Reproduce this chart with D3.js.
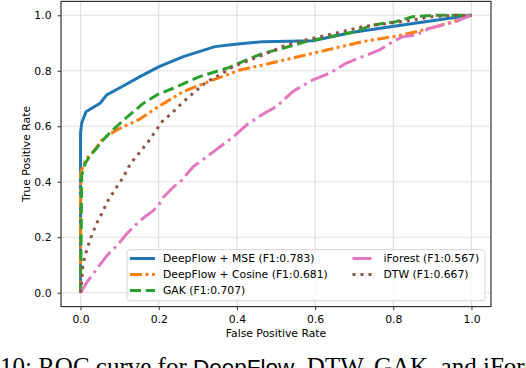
<!DOCTYPE html>
<html>
<head>
<meta charset="utf-8">
<script src="https://cdn.jsdelivr.net/npm/d3@7"></script>
<style>
  body { margin: 0; background: #fff; }
  svg { display: block; }
  .tick text { font-family: "DejaVu Sans", sans-serif; font-size: 10.8px; fill: #000; }
</style>
</head>
<body>
<div id="chart"></div>
<script>
// ROC curves (false positive rate, true positive rate)
const mseFpr = [0, 0, 0.003, 0.014, 0.05, 0.067, 0.109, 0.152, 0.201, 0.263, 0.344, 0.39, 0.467, 0.594, 0.697, 0.824, 0.944, 1];
const mseTpr = [0, 0.576, 0.612, 0.652, 0.683, 0.713, 0.745, 0.779, 0.815, 0.851, 0.887, 0.895, 0.905, 0.908, 0.939, 0.965, 0.989, 1];

const cosFpr = [0, 0, 0.006, 0.014, 0.029, 0.042, 0.058, 0.093, 0.152, 0.196, 0.263, 0.339, 0.408, 0.467, 0.594, 0.722, 0.824, 0.91, 0.961, 1];
const cosTpr = [0, 0.43, 0.454, 0.482, 0.503, 0.526, 0.557, 0.587, 0.626, 0.668, 0.725, 0.767, 0.803, 0.821, 0.863, 0.905, 0.929, 0.959, 0.981, 1];

const gakFpr = [0, 0.003, 0.011, 0.024, 0.041, 0.06, 0.081, 0.118, 0.161, 0.195, 0.237, 0.305, 0.374, 0.425, 0.467, 0.518, 0.577, 0.637, 0.697, 0.748, 0.807, 0.85, 0.91, 1];
const gakTpr = [0, 0.424, 0.464, 0.493, 0.521, 0.554, 0.585, 0.632, 0.683, 0.713, 0.737, 0.779, 0.809, 0.839, 0.863, 0.881, 0.905, 0.923, 0.939, 0.965, 0.977, 0.995, 1, 1];

const ifFpr = [0, 0.016, 0.041, 0.067, 0.097, 0.118, 0.152, 0.186, 0.199, 0.212, 0.237, 0.257, 0.288, 0.323, 0.357, 0.391, 0.425, 0.467, 0.501, 0.543, 0.594, 0.637, 0.679, 0.722, 0.765, 0.799, 0.824, 0.858, 0.893, 0.927, 0.961, 0.978, 1];
const ifTpr = [0, 0.037, 0.085, 0.133, 0.176, 0.212, 0.26, 0.296, 0.314, 0.344, 0.38, 0.403, 0.454, 0.49, 0.526, 0.562, 0.605, 0.644, 0.671, 0.725, 0.767, 0.791, 0.827, 0.851, 0.875, 0.905, 0.923, 0.929, 0.953, 0.965, 0.977, 0.989, 1];

const dtwFpr = [0, 0.003, 0.006, 0.012, 0.024, 0.041, 0.054, 0.071, 0.093, 0.109, 0.127, 0.156, 0.173, 0.199, 0.212, 0.229, 0.259, 0.288, 0.323, 0.348, 0.391, 0.433, 0.467, 0.526, 0.594, 0.663, 0.722, 0.79, 0.85, 0.901, 0.961, 1];
const dtwTpr = [0, 0.046, 0.1, 0.136, 0.19, 0.25, 0.284, 0.334, 0.382, 0.415, 0.464, 0.514, 0.544, 0.597, 0.623, 0.641, 0.683, 0.719, 0.761, 0.779, 0.815, 0.839, 0.857, 0.893, 0.917, 0.939, 0.959, 0.971, 0.983, 0.995, 1, 1];

const labels = ["DeepFlow + MSE (F1:0.783)", "DeepFlow + Cosine (F1:0.681)", "GAK (F1:0.707)", "iForest (F1:0.567)", "DTW (F1:0.667)"];
const ticks = [0, 0.2, 0.4, 0.6, 0.8, 1.0];

const width = 526;
const height = 368;

const series = [
  { name: labels[0], fpr: mseFpr, tpr: mseTpr, color: "#1f77b4", dash: null },
  { name: labels[1], fpr: cosFpr, tpr: cosTpr, color: "#ff7f0e", dash: "12,3.5,3,3.5,3,3.5" },
  { name: labels[2], fpr: gakFpr, tpr: gakTpr, color: "#2ca02c", dash: "11,4.8" },
  { name: labels[3], fpr: ifFpr, tpr: ifTpr, color: "#e377c2", dash: "19,4.8,3,4.8" },
  { name: labels[4], fpr: dtwFpr, tpr: dtwTpr, color: "#8c564b", dash: "3,5" }
];

const svg = d3.select('#chart')
  .append('svg')
  .attr('width', width)
  .attr('height', height);

const x = d3.scaleLinear().domain([-0.05, 1.05]).range([61, 491]);
const y = d3.scaleLinear().domain([-0.05, 1.05]).range([306.6, 1.4]);

//Grid
const grid = svg.append('g').attr('class', 'grid');
grid.selectAll('.gx').data(ticks).enter().append('line')
  .attr('x1', d => x(d)).attr('x2', d => x(d))
  .attr('y1', y.range()[0]).attr('y2', y.range()[1])
  .attr('stroke', '#e0e0e0').attr('stroke-width', 1.2);
grid.selectAll('.gy').data(ticks).enter().append('line')
  .attr('y1', d => y(d)).attr('y2', d => y(d))
  .attr('x1', x.range()[0]).attr('x2', x.range()[1])
  .attr('stroke', '#e0e0e0').attr('stroke-width', 1.2);

//Curves
const line = d3.line()
  .x(d => x(d[0]))
  .y(d => y(d[1]));

svg.append('g')
  .selectAll('path')
  .data(series)
  .enter().append('path')
  .attr('d', s => line(s.fpr.map((f, i) => [f, s.tpr[i]])))
  .attr('fill', 'none')
  .attr('stroke', s => s.color)
  .attr('stroke-width', 3)
  .attr('stroke-dasharray', s => s.dash)
  .attr('stroke-linejoin', 'round')
  .attr('stroke-linecap', 'butt');

//Axes
const xAxis = d3.axisBottom(x).tickValues(ticks).tickFormat(d3.format('.1f')).tickSize(3.5).tickSizeOuter(0).tickPadding(5.2);
const yAxis = d3.axisLeft(y).tickValues(ticks).tickFormat(d3.format('.1f')).tickSize(3.5).tickSizeOuter(0).tickPadding(6);

const gx = svg.append('g').attr('transform', `translate(0,${y.range()[0]})`).call(xAxis);
const gy = svg.append('g').attr('transform', `translate(${x.range()[0]},0)`).call(yAxis);
[gx, gy].forEach(g => {
  g.select('.domain').remove();
  g.selectAll('.tick line').attr('stroke', '#333').attr('stroke-width', 1);
});

//Frame
svg.append('rect')
  .attr('x', x.range()[0]).attr('y', y.range()[1])
  .attr('width', x.range()[1] - x.range()[0])
  .attr('height', y.range()[0] - y.range()[1])
  .attr('fill', 'none').attr('stroke', '#333').attr('stroke-width', 1.2);

//Axis labels
svg.append('text')
  .attr('x', (x.range()[0] + x.range()[1]) / 2).attr('y', 337)
  .attr('text-anchor', 'middle')
  .style('font-family', '"DejaVu Sans", sans-serif').style('font-size', '10.8px')
  .text('False Positive Rate');

svg.append('text')
  .attr('transform', `translate(29.5,${(y.range()[0] + y.range()[1]) / 2}) rotate(-90)`)
  .attr('text-anchor', 'middle')
  .style('font-family', '"DejaVu Sans", sans-serif').style('font-size', '10.8px')
  .text('True Positive Rate');

//Legend
const legend = svg.append('g').attr('id', 'legend');
legend.append('rect')
  .attr('x', 127).attr('y', 249.7).attr('width', 358).attr('height', 51)
  .attr('rx', 3)
  .attr('fill', '#fff').attr('fill-opacity', 0.8)
  .attr('stroke', '#d6d6d6').attr('stroke-width', 1);

const cols = [{ x0: 130, x1: 155, tx: 163 }, { x0: 352.5, x1: 373.5, tx: 383.5 }];
const rowY = [258.5, 274.5, 290.5];

const item = legend.selectAll('.item')
  .data(series)
  .enter().append('g')
  .attr('class', 'item');

item.append('line')
  .attr('x1', (s, i) => cols[Math.floor(i / 3)].x0)
  .attr('x2', (s, i) => cols[Math.floor(i / 3)].x1)
  .attr('y1', (s, i) => rowY[i % 3])
  .attr('y2', (s, i) => rowY[i % 3])
  .attr('stroke', s => s.color)
  .attr('stroke-width', 3)
  .attr('stroke-dasharray', s => s.dash);

item.append('text')
  .attr('x', (s, i) => cols[Math.floor(i / 3)].tx)
  .attr('y', (s, i) => rowY[i % 3] + 3.9)
  .style('font-family', '"DejaVu Sans", sans-serif').style('font-size', '10.8px')
  .text(s => s.name);

//Caption (cut off by the frame, as in the source page)
const caption = svg.append('text')
  .attr('x', 0).attr('y', 374.8)
  .style('font-family', '"Liberation Serif", serif').style('font-size', '25px')
  .attr('fill', '#000');
caption.append('tspan').text('10: ROC curve for ');
caption.append('tspan').style('font-family', '"Liberation Sans", sans-serif').style('font-size', '22.5px').text('DeepFlow');
caption.append('tspan').text(', DTW, GAK, and iForest.');
</script>
</body>
</html>
